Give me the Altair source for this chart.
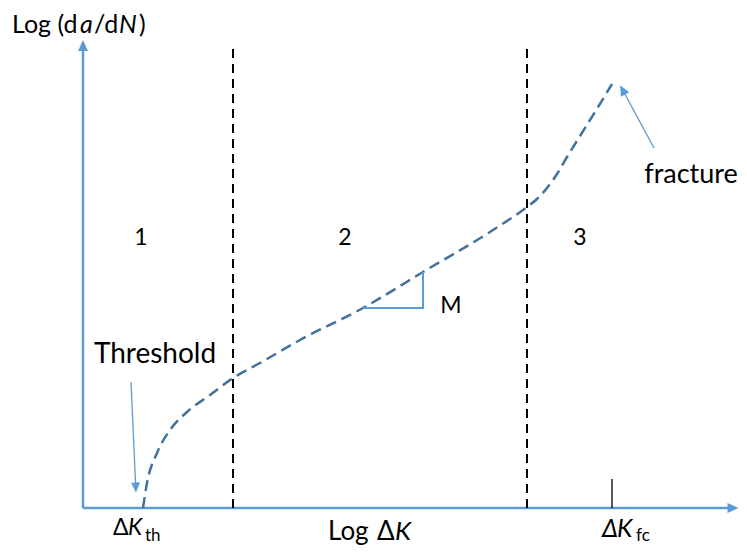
import altair as alt
import pandas as pd

# ---- data (x = log dK units, y = log da/dN units; origin at axis corner) ----
curve_x = [0.60, 0.64, 0.74, 0.87, 1.04, 1.27, 1.50, 1.77, 2.17, 2.80, 3.40, 4.10, 4.44,
           4.54, 4.64, 4.74, 4.84, 4.97, 5.12, 5.29]
curve_y = [0.00, 0.25, 0.55, 0.78, 0.96, 1.13, 1.30, 1.45, 1.68, 2.00, 2.36, 2.78, 3.01,
           3.09, 3.20, 3.34, 3.51, 3.72, 3.96, 4.24]

region_bounds = [1.50, 4.44]          # dashed region separators
region_top = 4.60
k_fc = 5.29                           # fracture toughness tick
k_fc_tick_top = 0.29

axis_x_end = 6.49
axis_y_end = 4.625

slope_x = [2.80, 3.40, 3.40]
slope_y = [2.00, 2.00, 2.36]

thr_arrow = [0.48, 1.26, 0.5275, 0.205]    # x, y, x2, y2
frac_arrow = [5.71, 3.60, 5.396, 4.182]

head_x = [0.0, 6.50, 0.5275, 5.396]
head_y = [4.625, 0.0, 0.205, 4.182]
head_angle = [0, 90, 177.4, 331.6]
head_size = [121, 121, 100, 110]

region_labels = ["1", "2", "3"]
region_label_x = [0.58, 2.62, 4.97]
region_label_y = [2.63, 2.63, 2.63]

# text pieces
normal_left_text = ["Log (d", "/d", ")", "Log ", "Δ", "Δ", "th", "fc"]
normal_left_x = [-0.71, 0.11, 0.56, 2.45, 2.94, 0.30, 0.62, 5.53]
normal_left_y = [4.75, 4.75, 4.75, -0.32, -0.32, -0.27, -0.33, -0.33]
normal_left_size = [25, 25, 25, 26, 26, 23, 17, 17]

italic_text = ["a", "N", "K", "K", "Δ", "K"]
italic_x = [-0.03, 0.36, 3.12, 0.45, 5.19, 5.34]
italic_y = [4.75, 4.75, -0.32, -0.27, -0.29, -0.29]
italic_size = [25, 25, 26, 23, 25, 25]

center_text = ["1", "2", "3", "M", "Threshold", "fracture"]
center_x = region_label_x + [3.68, 0.72, 6.08]
center_y = region_label_y + [1.95, 1.45, 3.25]
center_size = [23, 23, 23, 23, 28, 27]

AXIS_BLUE = "#5B9BD5"
CURVE_BLUE = "#41719C"
FONT = "Lato"

xs = alt.Scale(domain=[-0.75, 6.56], nice=False, zero=False)
ys = alt.Scale(domain=[-0.38, 5.00], nice=False, zero=False)

def X(f="x"):
    return alt.X(f + ":Q", scale=xs, axis=None)

def Y(f="y"):
    return alt.Y(f + ":Q", scale=ys, axis=None)

# axes segments
axes_df = pd.DataFrame({"x": [0.0, 0.0], "y": [0.0, 0.0],
                        "x2": [0.0, axis_x_end], "y2": [axis_y_end, 0.0]})
axes = alt.Chart(axes_df).mark_rule(color=AXIS_BLUE, strokeWidth=2.5).encode(
    x=X(), y=Y(), x2="x2:Q", y2="y2:Q")

sep_df = pd.DataFrame({"x": region_bounds, "y": [0.0, 0.0], "y2": [region_top, region_top]})
seps = alt.Chart(sep_df).mark_rule(color="black", strokeWidth=2, strokeDash=[9, 6]).encode(
    x=X(), y=Y(), y2="y2:Q")

tick_df = pd.DataFrame({"x": [k_fc], "y": [0.0], "y2": [k_fc_tick_top]})
tick = alt.Chart(tick_df).mark_rule(color="black", strokeWidth=1.3).encode(
    x=X(), y=Y(), y2="y2:Q")

curve_df = pd.DataFrame({"x": curve_x, "y": curve_y})
curve = alt.Chart(curve_df).mark_line(color=CURVE_BLUE, strokeWidth=2.5, strokeDash=[11, 6],
                                      interpolate="monotone").encode(x=X(), y=Y())

slope_df = pd.DataFrame({"x": slope_x, "y": slope_y, "o": [0, 1, 2]})
slope = alt.Chart(slope_df).mark_line(color=AXIS_BLUE, strokeWidth=2).encode(
    x=X(), y=Y(), order="o:Q")

arr_df = pd.DataFrame([thr_arrow, frac_arrow], columns=["x", "y", "x2", "y2"])
arrows = alt.Chart(arr_df).mark_rule(color=AXIS_BLUE, strokeWidth=1.3).encode(
    x=X(), y=Y(), x2="x2:Q", y2="y2:Q")

head_df = pd.DataFrame({"x": head_x, "y": head_y, "a": head_angle, "s": head_size})
heads = alt.Chart(head_df).mark_point(shape="M0,-1L0.9,1L-0.9,1Z", filled=True,
                                      color=AXIS_BLUE, opacity=1).encode(
    x=X(), y=Y(), angle=alt.Angle("a:Q", scale=None), size=alt.Size("s:Q", scale=None))

nl_df = pd.DataFrame({"t": normal_left_text, "x": normal_left_x, "y": normal_left_y, "s": normal_left_size})
nl = alt.Chart(nl_df).mark_text(align="left", baseline="alphabetic", font=FONT, color="black").encode(
    x=X(), y=Y(), text="t:N", size=alt.Size("s:Q", scale=None))

it_df = pd.DataFrame({"t": italic_text, "x": italic_x, "y": italic_y, "s": italic_size})
it = alt.Chart(it_df).mark_text(align="left", baseline="alphabetic", font=FONT, fontStyle="italic",
                                color="black").encode(
    x=X(), y=Y(), text="t:N", size=alt.Size("s:Q", scale=None))

ct_df = pd.DataFrame({"t": center_text, "x": center_x, "y": center_y, "s": center_size})
ct = alt.Chart(ct_df).mark_text(align="center", baseline="alphabetic", font=FONT, color="black").encode(
    x=X(), y=Y(), text="t:N", size=alt.Size("s:Q", scale=None))

chart = alt.layer(axes, seps, tick, curve, slope, arrows, heads, nl, it, ct).properties(
    width=731, height=538, padding=0, autosize=alt.AutoSizeParams(type="none"),
    background="white"
).configure_view(stroke=None)

chart.save("out.html", embed_options={"renderer": "svg", "actions": False})
